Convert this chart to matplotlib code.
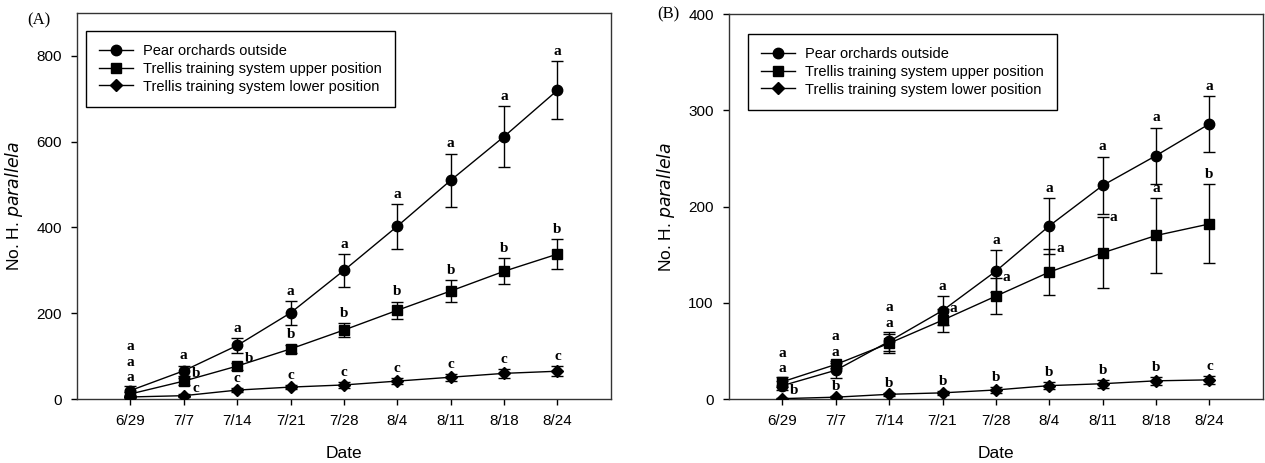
import matplotlib.pyplot as plt

plt.rcParams['font.family'] = ['Liberation Sans', 'DejaVu Sans']

dates = ['6/29', '7/7', '7/14', '7/21', '7/28', '8/4', '8/11', '8/18', '8/24']
names = ['Pear orchards outside',
         'Trellis training system upper position',
         'Trellis training system lower position']

# panel A
a_outside = [20, 66, 125, 201, 300, 403, 510, 612, 720]
a_outside_err = [10, 12, 18, 28, 38, 52, 62, 70, 67]
a_upper = [12, 42, 77, 117, 161, 207, 252, 298, 338]
a_upper_err = [5, 8, 8, 10, 16, 20, 26, 30, 35]
a_lower = [5, 8, 21, 28, 33, 42, 51, 60, 65]
a_lower_err = [3, 3, 5, 5, 6, 7, 8, 10, 11]
a_letters = [list('aaaaaaaaa'), list('abbbbbbbb'), list('acccccccc')]

# panel B
b_outside = [14, 30, 60, 92, 133, 180, 222, 253, 286]
b_outside_err = [5, 8, 10, 15, 22, 29, 30, 29, 29]
b_upper = [18, 36, 58, 82, 107, 132, 152, 170, 182]
b_upper_err = [5, 4, 10, 12, 19, 24, 37, 39, 41]
b_lower = [0.5, 2, 5, 6.5, 9.5, 14, 16, 19, 20]
b_lower_err = [1, 1, 1.5, 2, 3, 3.5, 4, 4, 4]
b_letters = [list('aaaaaaaaa'), list('aaaaaaaab'), list('bbbbbbbbc')]

# where each letter goes: 's0','s1','s2' stacked, 'up' above own bar,
# 'ne' up-right of point, 'rt' right of upper cap
a_place = [['s2'] + ['up'] * 8,
           ['s1', 'ne', 'ne'] + ['up'] * 6,
           ['s0', 'ne'] + ['up'] * 7]
b_place = [['s1', 's1', 's1'] + ['up'] * 6,
           ['s0', 's0', 's0', 'rt', 'rt', 'rt', 'rt', 'up', 'up'],
           ['ne'] + ['up'] * 8]

markers = ['o', 's', 'D']
msizes = [7.5, 6.5, 6]


def panel(ax, vals, errs, letters, place, ymax, yticks, tag, tagpos):
    x = list(range(len(dates)))
    for k in range(3):
        ax.errorbar(x, vals[k], yerr=errs[k], fmt='none', ecolor='black',
                    elinewidth=1, capsize=4, capthick=1, zorder=2)
        ax.plot(x, vals[k], color='black', lw=1, marker=markers[k],
                ms=msizes[k], mfc='black', mec='black', label=names[k], zorder=3)
    for i in x:
        top = max(vals[k][i] + errs[k][i] for k in range(3))
        for k in range(3):
            p = place[k][i]
            lt = letters[k][i]
            kw = dict(textcoords='offset points', fontsize=11, fontweight='bold',
                      family='Liberation Serif')
            if p.startswith('s'):
                lvl = int(p[1])
                ax.annotate(lt, (i, top), xytext=(0, 3.5 + 11.2 * lvl),
                            ha='center', va='baseline', **kw)
            elif p == 'up':
                ax.annotate(lt, (i, vals[k][i] + errs[k][i]), xytext=(0, 4.5),
                            ha='center', va='baseline', **kw)
            elif p == 'ne':
                ax.annotate(lt, (i, vals[k][i]), xytext=(8.5, 5.5),
                            ha='center', va='center', **kw)
            else:
                ax.annotate(lt, (i, vals[k][i] + errs[k][i]), xytext=(5, 0),
                            ha='left', va='center', **kw)
    ax.set_xlim(-1, 9)
    ax.set_ylim(0, ymax)
    ax.set_xticks(x)
    ax.set_xticklabels(dates)
    ax.set_yticks(yticks)
    ax.tick_params(direction='out', length=4, width=1, labelsize=11, pad=7)
    for s in ax.spines.values():
        s.set_linewidth(1)
        s.set_color('#333333')
    ax.set_xlabel('Date', fontsize=12.5, labelpad=13)
    ax.set_ylabel('No. H. $\\it{parallela}$', fontsize=12.5, labelpad=8)
    ax.text(tagpos[0], tagpos[1], tag, transform=ax.transAxes, fontsize=12,
            family='Liberation Serif', ha='left', va='center')


fig = plt.figure(figsize=(12.65, 4.63), dpi=100)
ax1 = fig.add_axes([0.0609, 0.138, 0.422, 0.834])
ax2 = fig.add_axes([0.5763, 0.138, 0.422, 0.8315])

panel(ax1, [a_outside, a_upper, a_lower], [a_outside_err, a_upper_err, a_lower_err],
      a_letters, a_place, 900, [0, 200, 400, 600, 800], '(A)', (-0.094, 0.982))
panel(ax2, [b_outside, b_upper, b_lower], [b_outside_err, b_upper_err, b_lower_err],
      b_letters, b_place, 400, [0, 100, 200, 300, 400], '(B)', (-0.135, 1.0))

for ax, anchor in [(ax1, (0.017, 0.953)), (ax2, (0.036, 0.948))]:
    leg = ax.legend(loc='upper left', bbox_to_anchor=anchor, borderaxespad=0,
                    fontsize=10.5, fancybox=False, edgecolor='black',
                    handlelength=2.3, handletextpad=0.7, labelspacing=0.25,
                    borderpad=0.9, framealpha=1)
    leg.get_frame().set_linewidth(1)

fig.savefig('out.png', dpi=100)
